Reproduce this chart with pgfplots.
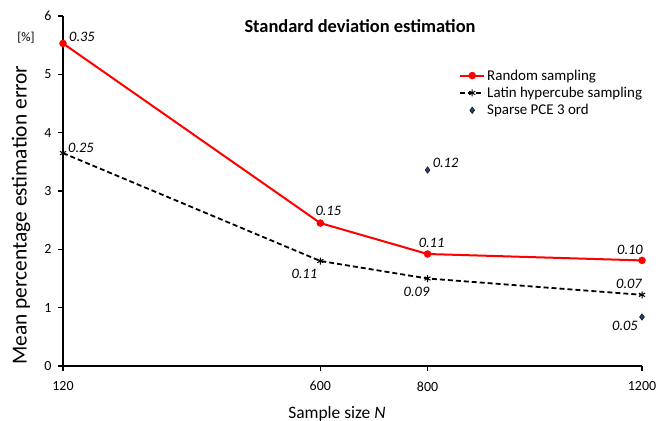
\documentclass[border=0pt]{standalone}
\usepackage{pgfplots}
\pgfplotsset{compat=1.18}
\usepackage{fontspec}
\setmainfont{Carlito}
\definecolor{pceblue}{RGB}{37,64,110}
\pgfplotsset{
  legline/.style={legend image code/.code={\draw[mark repeat=2,mark phase=2,##1] plot coordinates {(0bp,0bp) (12bp,0bp) (24bp,0bp)};}},
  legmark/.style={legend image code/.code={\draw[##1] plot coordinates {(12bp,0bp)};}},
}
\begin{document}
\begin{tikzpicture}
\begin{axis}[
  scale only axis,
  width=579bp, height=350bp,
  xmin=120, xmax=1200, ymin=0, ymax=6,
  axis x line=bottom, axis y line=left,
  axis line style={-, line width=1.4bp},
  xtick={120,600,800,1200},
  ytick={0,1,2,3,4,5,6},
  tick align=outside,
  major tick length=5bp,
  tick style={line width=1.2bp, black},
  /pgf/number format/assume math mode=true,
  /pgf/number format/1000 sep={},
  ticklabel style={font=\fontsize{14}{16}\selectfont},
  xticklabel style={yshift=-7bp},
  yticklabel style={xshift=-3bp},
  xlabel={Sample size \textit{N}},
  ylabel={Mean percentage estimation error},
  xlabel style={font=\fontsize{17.5}{20}\selectfont, at={(rel axis cs:0.473,-0.149)}, anchor=base},
  ylabel style={font=\fontsize{21.5}{24}\selectfont, at={(rel axis cs:-0.0725,0.431)}, anchor=center},
  legend style={draw=none, fill=none, at={(rel axis cs:0.684,0.853)}, anchor=north west,
    font=\fontsize{15}{17}\selectfont, row sep=1.5bp, inner sep=0pt},
  legend cell align=left,
  clip=false,
]
\coordinate (O) at (rel axis cs:0,0);
\addplot[red, line width=2bp, mark=*, mark size=2.7bp, mark options={solid, fill=red}, legline]
  coordinates {(120,5.53) (600,2.45) (800,1.92) (1200,1.81)};
\addlegendentry{Random sampling}
\addplot[black, line width=1.8bp, dash pattern=on 5bp off 3bp, mark=asterisk, mark size=3.5bp, mark options={solid, line width=1bp}, legline]
  coordinates {(120,3.65) (600,1.80) (800,1.50) (1200,1.22)};
\addlegendentry{Latin hypercube sampling}
\addplot[only marks, mark=diamond*, mark size=3.3bp, mark options={fill=pceblue, draw=black, line width=0.4bp}, legmark]
  coordinates {(800,3.36) (1200,0.84)};
\addlegendentry{Sparse PCE 3 ord}
\begin{scope}[every node/.style={font=\fontsize{14.5}{16}\selectfont\itshape, inner sep=0pt}]
\node[anchor=base west, xshift=6bp, yshift=2bp] at (axis cs:120,5.53) {0.35};
\node[anchor=base west, xshift=5bp, yshift=1bp] at (axis cs:120,3.65) {0.25};
\node[anchor=base west, xshift=-5bp, yshift=8bp] at (axis cs:600,2.45) {0.15};
\node[anchor=base east, xshift=-3bp, yshift=-17bp] at (axis cs:600,1.80) {0.11};
\node[anchor=base, xshift=4bp, yshift=7bp] at (axis cs:800,1.92) {0.11};
\node[anchor=base east, xshift=2bp, yshift=-18bp] at (axis cs:800,1.50) {0.09};
\node[anchor=base east, xshift=1bp, yshift=6bp] at (axis cs:1200,1.81) {0.10};
\node[anchor=base east, xshift=0bp, yshift=6bp] at (axis cs:1200,1.22) {0.07};
\node[anchor=base east, xshift=-4bp, yshift=-13bp] at (axis cs:1200,0.84) {0.05};
\node[anchor=base west, xshift=5bp, yshift=3bp] at (axis cs:800,3.36) {0.12};
\end{scope}
\node[anchor=base, font=\fontsize{18.5}{20}\selectfont\bfseries] at (rel axis cs:0.513,0.954) {Standard deviation estimation};
\node[anchor=center, font=\fontsize{13}{15}\selectfont] at (rel axis cs:-0.064,0.937) {[\%]};
\end{axis}
\pgfresetboundingbox
\path ([shift={(-63bp,-55bp)}]O) rectangle ++(671bp,421bp);
\end{tikzpicture}
\end{document}
